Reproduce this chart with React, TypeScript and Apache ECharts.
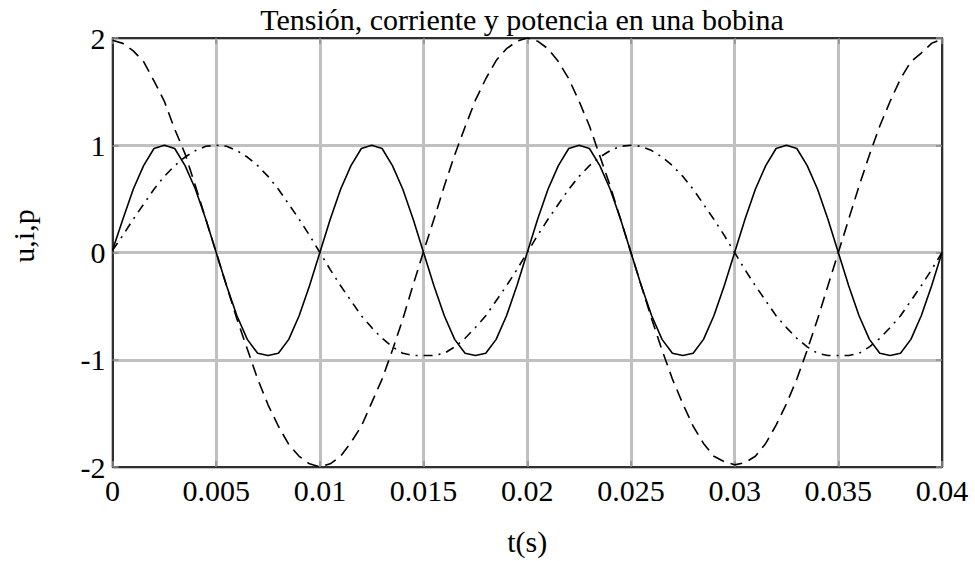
import React, { useEffect, useRef } from "react";
import * as echarts from "echarts";

const titleText = "Tensión, corriente y potencia en una bobina";
const xName = "t(s)";
const yName = "u,i,p";

const xTickLabels = ["0", "0.005", "0.01", "0.015", "0.02", "0.025", "0.03", "0.035", "0.04"];
const yTickLabels = ["-2", "-1", "0", "1", "2"];

const times = [
  0, 0.0005, 0.001, 0.0015, 0.002, 0.0025, 0.003, 0.0035, 0.004, 0.0045,
  0.005, 0.0055, 0.006, 0.0065, 0.007, 0.0075, 0.008, 0.0085, 0.009, 0.0095,
  0.01, 0.0105, 0.011, 0.0115, 0.012, 0.0125, 0.013, 0.0135, 0.014, 0.0145,
  0.015, 0.0155, 0.016, 0.0165, 0.017, 0.0175, 0.018, 0.0185, 0.019, 0.0195,
  0.02, 0.0205, 0.021, 0.0215, 0.022, 0.0225, 0.023, 0.0235, 0.024, 0.0245,
  0.025, 0.0255, 0.026, 0.0265, 0.027, 0.0275, 0.028, 0.0285, 0.029, 0.0295,
  0.03, 0.0305, 0.031, 0.0315, 0.032, 0.0325, 0.033, 0.0335, 0.034, 0.0345,
  0.035, 0.0355, 0.036, 0.0365, 0.037, 0.0375, 0.038, 0.0385, 0.039, 0.0395,
  0.04,
];

// tensión u (dashed)
const uValues = [
  1.98, 1.95, 1.88, 1.78, 1.6, 1.41, 1.15, 0.92, 0.62, 0.31,
  0.0, -0.31, -0.62, -0.9, -1.18, -1.42, -1.62, -1.79, -1.9, -1.97,
  -2.0, -1.97, -1.9, -1.77, -1.62, -1.4, -1.18, -0.91, -0.62, -0.3,
  0.01, 0.31, 0.62, 0.91, 1.17, 1.42, 1.62, 1.79, 1.9, 1.97,
  2.0, 1.97, 1.9, 1.78, 1.62, 1.41, 1.18, 0.9, 0.62, 0.31,
  0.0, -0.31, -0.62, -0.91, -1.18, -1.41, -1.62, -1.78, -1.9, -1.95,
  -1.98, -1.96, -1.9, -1.78, -1.61, -1.41, -1.18, -0.91, -0.62, -0.31,
  0.0, 0.31, 0.62, 0.91, 1.18, 1.41, 1.62, 1.78, 1.86, 1.95,
  1.99,
];

// corriente i (dash-dot)
const iValues = [
  0.02, 0.16, 0.31, 0.45, 0.59, 0.71, 0.81, 0.89, 0.95, 0.99,
  1.0, 0.99, 0.95, 0.89, 0.81, 0.71, 0.59, 0.45, 0.31, 0.16,
  0.0, -0.16, -0.31, -0.45, -0.59, -0.7, -0.8, -0.88, -0.94, -0.96,
  -0.96, -0.96, -0.94, -0.88, -0.8, -0.7, -0.59, -0.45, -0.31, -0.16,
  0.0, 0.16, 0.31, 0.45, 0.59, 0.71, 0.81, 0.89, 0.95, 0.99,
  1.0, 0.99, 0.95, 0.89, 0.81, 0.71, 0.59, 0.45, 0.31, 0.16,
  0.0, -0.16, -0.31, -0.45, -0.59, -0.7, -0.8, -0.88, -0.94, -0.96,
  -0.96, -0.96, -0.94, -0.88, -0.8, -0.7, -0.59, -0.45, -0.31, -0.16,
  0.0,
];

// potencia p (solid)
const pValues = [
  0.02, 0.31, 0.59, 0.81, 0.97, 1.0, 0.97, 0.81, 0.59, 0.31,
  0.0, -0.31, -0.59, -0.81, -0.94, -0.96, -0.94, -0.81, -0.59, -0.31,
  0.0, 0.31, 0.59, 0.81, 0.97, 1.0, 0.97, 0.81, 0.59, 0.31,
  0.0, -0.31, -0.59, -0.81, -0.94, -0.96, -0.94, -0.81, -0.59, -0.31,
  0.0, 0.31, 0.59, 0.81, 0.97, 1.0, 0.97, 0.81, 0.59, 0.31,
  0.0, -0.31, -0.59, -0.81, -0.94, -0.96, -0.94, -0.81, -0.59, -0.31,
  0.0, 0.31, 0.59, 0.81, 0.97, 1.0, 0.97, 0.81, 0.59, 0.31,
  0.0, -0.31, -0.59, -0.81, -0.94, -0.96, -0.94, -0.81, -0.59, -0.31,
  0.0,
];

const FONT = "'Liberation Serif', 'Times New Roman', serif";
const FS = 30;

function pairs(vals: number[]) {
  return times.map((t, k) => [t, vals[k]]);
}

export default function App() {
  const ref = useRef<HTMLDivElement>(null);
  useEffect(() => {
    if (!ref.current) return;
    const chart = echarts.init(ref.current, null, { renderer: "svg" });
    const boxLine = { show: true, onZero: false, lineStyle: { color: "#000", width: 1.5 } };
    const tick = { show: true, inside: true, length: 6, lineStyle: { color: "#8c8c8c", width: 1.5 } };
    chart.setOption({
      animation: false,
      backgroundColor: "#fff",
      title: {
        text: titleText,
        left: 522,
        top: 4,
        padding: 0,
        textAlign: "center",
        textStyle: { fontFamily: FONT, fontSize: FS, fontWeight: "normal", color: "#000" },
      },
      graphic: [
        {
          type: "text",
          x: 23,
          y: 236,
          rotation: Math.PI / 2,
          style: {
            text: yName,
            fontFamily: FONT,
            fontSize: FS,
            fill: "#000",
            textAlign: "center",
            textVerticalAlign: "middle",
          },
        },
      ],
      grid: { left: 112.5, right: 33, top: 38, bottom: 88, containLabel: false },
      xAxis: [
        {
          type: "value",
          min: 0,
          max: 0.04,
          interval: 0.005,
          position: "bottom",
          name: xName,
          nameLocation: "middle",
          nameGap: 59,
          nameTextStyle: { fontFamily: FONT, fontSize: FS, color: "#000" },
          axisLine: boxLine,
          axisTick: tick,
          axisLabel: {
            margin: 8,
            fontFamily: FONT,
            fontSize: FS,
            color: "#000",
            formatter: (v: number) => xTickLabels[Math.round(v / 0.005)] ?? "",
          },
          splitLine: { show: true, lineStyle: { color: "#c0c0c0", width: 3 } },
        },
        {
          type: "value",
          min: 0,
          max: 0.04,
          interval: 0.005,
          position: "top",
          axisLine: boxLine,
          axisTick: tick,
          axisLabel: { show: false },
          splitLine: { show: false },
        },
      ],
      yAxis: [
        {
          type: "value",
          min: -2,
          max: 2,
          interval: 1,
          position: "left",
          axisLine: boxLine,
          axisTick: tick,
          axisLabel: {
            margin: 7,
            fontFamily: FONT,
            fontSize: FS,
            color: "#000",
            formatter: (v: number) => yTickLabels[Math.round(v) + 2] ?? "",
          },
          splitLine: { show: true, lineStyle: { color: "#c0c0c0", width: 3 } },
        },
        {
          type: "value",
          min: -2,
          max: 2,
          interval: 1,
          position: "right",
          axisLine: boxLine,
          axisTick: tick,
          axisLabel: { show: false },
          splitLine: { show: false },
        },
      ],
      series: [
        {
          name: "u",
          type: "line",
          data: pairs(uValues),
          showSymbol: false,
          lineStyle: { color: "#000", width: 1.6, type: [12, 7] },
        },
        {
          name: "i",
          type: "line",
          data: pairs(iValues),
          showSymbol: false,
          lineStyle: { color: "#000", width: 1.6, type: [9, 6, 2, 6] },
        },
        {
          name: "p",
          type: "line",
          data: pairs(pValues),
          showSymbol: false,
          lineStyle: { color: "#000", width: 1.6 },
        },
      ],
    });
    return () => chart.dispose();
  }, []);
  return (
    <div
      ref={ref}
      style={{ position: "fixed", left: 0, top: 0, width: 975, height: 561, background: "#fff" }}
    />
  );
}
